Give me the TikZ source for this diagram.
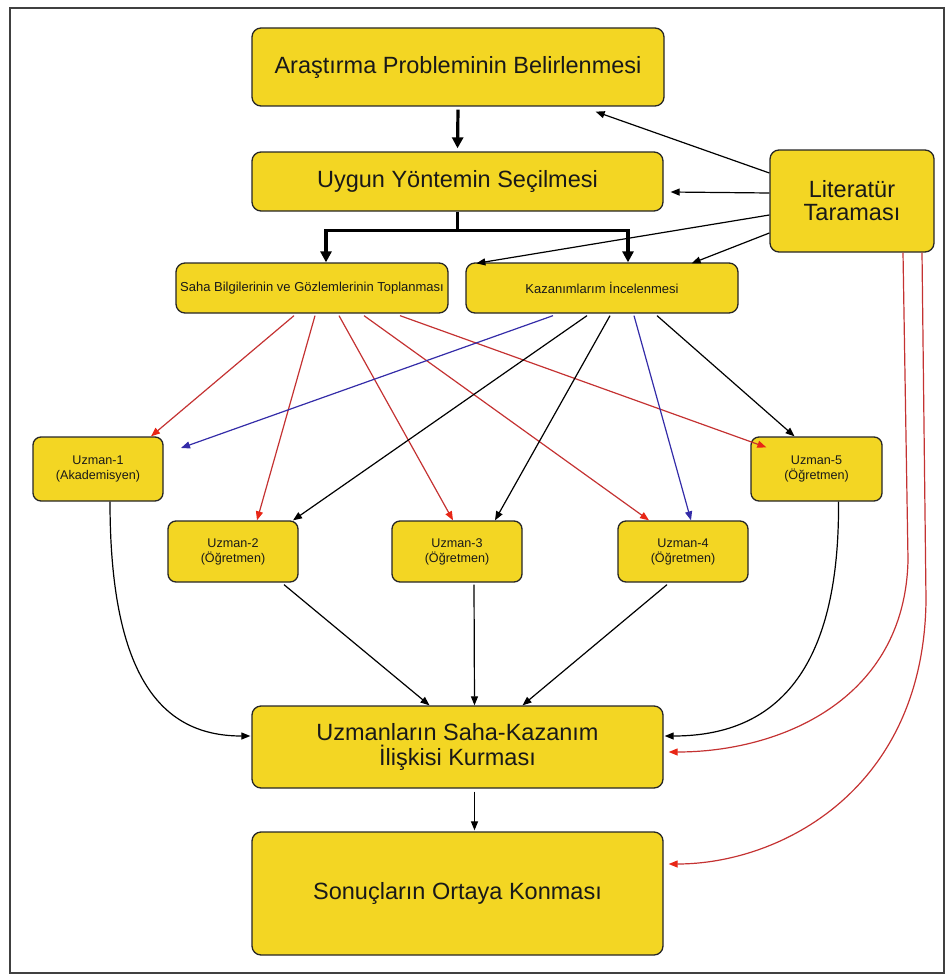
\documentclass[tikz,border=0pt]{standalone}
\usepackage{fontspec}
\setmainfont{Liberation Sans}
\usetikzlibrary{arrows.meta}
\definecolor{boxyellow}{RGB}{243,214,35}
\definecolor{redline}{RGB}{196,50,50}
\definecolor{redtip}{RGB}{232,38,22}
\definecolor{blueline}{RGB}{52,44,168}
\begin{document}
\begin{tikzpicture}[x=1pt,y=-1pt,
  box/.style={draw=black!85,line width=1.3pt,fill=boxyellow,rounded corners=9pt,
     inner sep=0pt,align=center,text=black!90},
  bigbox/.style={box,font=\fontsize{23.5}{25}\selectfont},
  midbox/.style={box,font=\fontsize{13}{15}\selectfont},
  smallbox/.style={box,rounded corners=8pt,minimum width=130pt,font=\fontsize{12.6}{15}\selectfont},
  arr/.style={line width=1.2pt,-{Triangle[length=9pt,width=7pt]}},
  redarr/.style={line width=1.2pt,draw=redline,-{Triangle[length=9pt,width=7pt,color=redtip]}},
  bluearr/.style={line width=1.2pt,draw=blueline,-{Triangle[length=9pt,width=7pt]}},
  thickarr/.style={line width=3.2pt,-{Triangle[length=11pt,width=11pt]}}
]
\useasboundingbox (0,0) rectangle (947,979);
\draw[line width=1.6pt,draw=black!75] (10,8) rectangle (944,973);

\node[bigbox,minimum width=412pt,minimum height=78pt] (A) at (458,67) {Araştırma Probleminin Belirlenmesi};
\node[bigbox,minimum width=411pt,minimum height=59pt] (B) at (457.5,181.5) {Uygun Yöntemin Seçilmesi};
\node[bigbox,minimum width=164pt,minimum height=102pt,font=\fontsize{23.5}{23}\selectfont] (L) at (852,201) {Literatür\\Taraması};
\node[midbox,minimum width=272pt,minimum height=50pt] (S) at (312,288) {Saha Bilgilerinin ve Gözlemlerinin Toplanması};
\node[midbox,minimum width=272pt,minimum height=50pt] (K) at (602,288) {Kazanımlarım İncelenmesi};
\node[smallbox,minimum height=64pt] (U1) at (98,469) {Uzman-1\\(Akademisyen)};
\node[smallbox,minimum height=61pt] (U2) at (233,551.5) {Uzman-2\\(Öğretmen)};
\node[smallbox,minimum height=61pt] (U3) at (457,551.5) {Uzman-3\\(Öğretmen)};
\node[smallbox,minimum height=61pt] (U4) at (683,551.5) {Uzman-4\\(Öğretmen)};
\node[smallbox,minimum height=64pt,minimum width=131pt] (U5) at (816.5,469) {Uzman-5\\(Öğretmen)};
\node[bigbox,minimum width=411pt,minimum height=82pt] (UZ) at (457.5,747) {Uzmanların Saha-Kazanım\\İlişkisi Kurması};
\node[bigbox,minimum width=411pt,minimum height=123pt] (SON) at (457.5,893.5) {Sonuçların Ortaya Konması};

% top chain
\draw[thickarr] ([yshift=-3pt]A.south) -- ([yshift=3pt]B.north);
\coordinate (j) at ([yshift=-19pt]B.south);
\draw[line width=3.2pt] (B.south) -- (j);
\draw[line width=3.2pt,{Triangle[length=11pt,width=11pt]}-{Triangle[length=11pt,width=11pt]}]
  ([xshift=14pt]S.north) |- (j) -| ([xshift=26pt]K.north);

% literature arrows
\draw[arr] ([yshift=28pt]L.west) -- ([xshift=-69pt,yshift=-5pt]A.south east);
\draw[arr] ([yshift=8pt]L.west) -- ([xshift=7pt,yshift=-10.5pt]B.east);
\draw[arr] ([yshift=-14pt]L.west) -- ([xshift=11pt,yshift=-1pt]K.north west);
\draw[arr] ([yshift=-32pt]L.west) -- ([xshift=-47pt,yshift=-1pt]K.north east);

% S -> experts
\draw[redarr] ([xshift=-18pt,yshift=-2pt]S.south) -- ([xshift=53pt]U1.north);
\draw[redarr] ([xshift=3pt,yshift=-2pt]S.south) -- ([xshift=24pt]U2.north);
\draw[redarr] ([xshift=27pt,yshift=-2pt]S.south) -- ([xshift=-4pt]U3.north);
\draw[redarr] ([xshift=52pt,yshift=-2pt]S.south) -- ([xshift=-34pt]U4.north);
\draw[redarr] ([xshift=88pt,yshift=-2pt]S.south) -- ([xshift=16pt,yshift=-11pt]U5.north west);

% K -> experts
\coordinate (c1) at (181,448);
\draw[bluearr] ([xshift=-49pt,yshift=-2pt]K.south) -- (c1);
\draw[arr] ([xshift=-15pt,yshift=-2pt]K.south) -- ([xshift=60pt]U2.north);
\draw[arr] ([xshift=8pt,yshift=-2pt]K.south) -- ([xshift=38pt]U3.north);
\draw[bluearr] ([xshift=32pt,yshift=-2pt]K.south) -- ([xshift=8pt]U4.north);
\draw[arr] ([xshift=55pt,yshift=-2pt]K.south) -- ([xshift=-22pt]U5.north);

% experts -> UZ
\draw[arr] ([xshift=51pt,yshift=-2pt]U2.south) -- ([xshift=-28pt]UZ.north);
\draw[arr] ([xshift=17pt,yshift=-2pt]U3.south) -- ([xshift=17pt]UZ.north);
\draw[arr] ([xshift=-16pt,yshift=-2pt]U4.south) -- ([xshift=65pt]UZ.north);
\draw[arr] ([xshift=12pt]U1.south) .. controls (110,690) and (170,736) .. ([xshift=-1pt,yshift=11pt]UZ.west);
\draw[arr] ([xshift=22pt]U5.south) .. controls (840,690) and (760,736) .. ([xshift=1pt,yshift=11pt]UZ.east);

% UZ -> SON
\draw[arr] ([xshift=17pt,yshift=-3pt]UZ.south) -- ([xshift=17pt,yshift=1pt]SON.north);

% literature -> UZ, SON (red curves)
\draw[redarr] ([xshift=51pt]L.south) -- (908,560) .. controls (905,700) and (780,752) .. ([xshift=5pt,yshift=-5pt]UZ.east);
\draw[redarr] ([xshift=70pt]L.south) -- (926,600) .. controls (924,790) and (780,864) .. ([xshift=5pt,yshift=29.5pt]SON.east);
\end{tikzpicture}
\end{document}
